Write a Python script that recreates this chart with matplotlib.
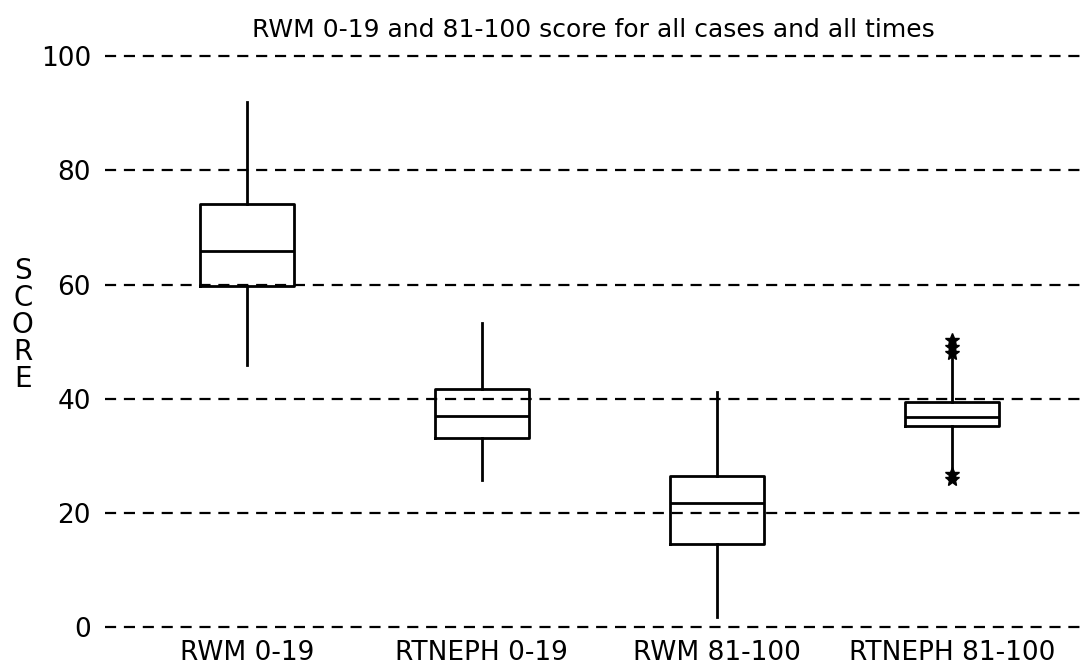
import matplotlib
matplotlib.use("Agg")
import matplotlib.pyplot as plt

# Values
groups = ["RWM 0-19", "RTNEPH 0-19", "RWM 81-100", "RTNEPH 81-100"]
whisker_lo = [45.9, 25.7, 1.8, 27.8]
q1 = [59.7, 33.1, 14.5, 35.3]
median = [65.9, 37.0, 21.7, 36.8]
q3 = [74.2, 41.7, 26.4, 39.5]
whisker_hi = [92.0, 53.2, 41.2, 47.1]
outliers = [[], [], [], [50.3, 49.0, 48.0, 26.9, 26.0]]

plt.rcParams['font.family'] = ['Liberation Sans Narrow', 'DejaVu Sans']

stats = []
for i, name in enumerate(groups):
    stats.append({
        'label': name,
        'whislo': whisker_lo[i],
        'q1': q1[i],
        'med': median[i],
        'q3': q3[i],
        'whishi': whisker_hi[i],
        'fliers': outliers[i],
    })

fig = plt.figure(figsize=(10.81, 6.70), dpi=100)
ax = fig.add_axes([0.097, 0.064, 0.903, 0.852])

line_kw = dict(color='black', linewidth=2.0)
ax.bxp(stats, positions=[1, 2, 3, 4], widths=0.4, showcaps=False,
       boxprops=line_kw, whiskerprops=line_kw, medianprops=line_kw,
       flierprops=dict(marker='*', markersize=10, markerfacecolor='black',
                       markeredgecolor='black', linestyle='none'))

ax.set_xlim(0.396, 4.55)
ax.set_ylim(0, 100)
ax.set_yticks([0, 20, 40, 60, 80, 100])
ax.set_yticklabels(['0', '20', '40', '60', '80', '100'], fontsize=19)
ax.tick_params(axis='x', labelsize=19, length=0, pad=9)
ax.tick_params(axis='y', length=0, pad=10)

for s in ax.spines.values():
    s.set_visible(False)

# dashed horizontal grid, drawn behind the boxes
ax.yaxis.grid(True, color='black', linewidth=1.6, linestyle=(0, (5, 3.5)))
ax.set_axisbelow(True)
for gl in ax.get_ygridlines():
    gl.set_clip_on(False)

ax.set_title("RWM 0-19 and 81-100 score for all cases and all times",
             fontsize=18, pad=14)

fig.text(0.021, 0.515, "S\nC\nO\nR\nE", fontsize=20, ha='center', va='center',
         linespacing=0.95)

fig.savefig("out.png", dpi=100)
